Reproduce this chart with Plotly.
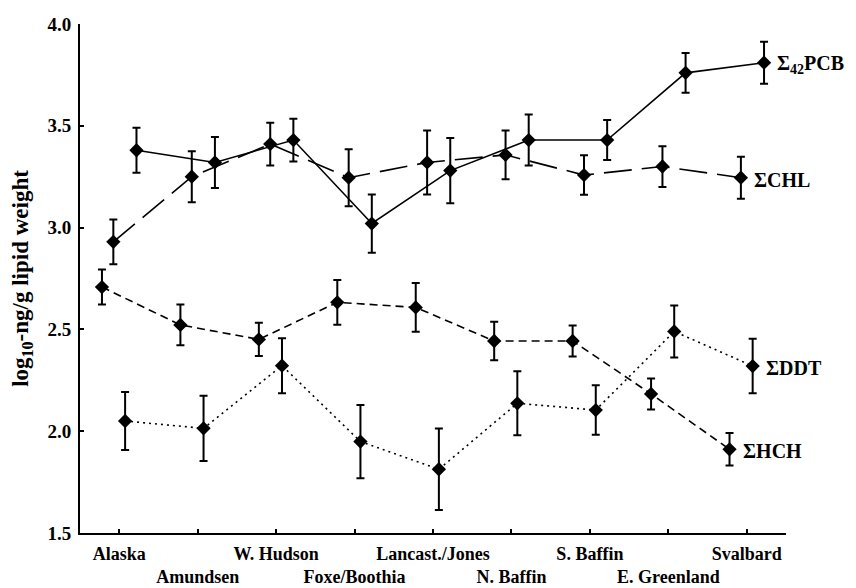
import numpy as np
import plotly.graph_objects as go

categories = ["Alaska", "Amundsen", "W. Hudson", "Foxe/Boothia", "Lancast./Jones",
              "N. Baffin", "S. Baffin", "E. Greenland", "Svalbard"]

pcb = [3.38, 3.32, 3.43, 3.02, 3.28, 3.43, 3.43, 3.76, 3.81]
pcb_err = [0.11, 0.125, 0.105, 0.143, 0.16, 0.125, 0.098, 0.098, 0.103]

chl = [2.93, 3.25, 3.41, 3.245, 3.32, 3.357, 3.258, 3.30, 3.245]
chl_err = [0.11, 0.125, 0.105, 0.14, 0.157, 0.12, 0.097, 0.10, 0.103]

hch = [2.708, 2.522, 2.451, 2.633, 2.608, 2.443, 2.443, 2.183, 1.911]
hch_err = [0.086, 0.10, 0.082, 0.11, 0.12, 0.095, 0.076, 0.076, 0.08]

ddt = [2.05, 2.014, 2.322, 1.949, 1.813, 2.137, 2.104, 2.49, 2.32]
ddt_err = [0.142, 0.16, 0.135, 0.18, 0.20, 0.157, 0.122, 0.128, 0.134]

series_names = ["Σ<sub>42</sub>PCB", "ΣCHL", "ΣHCH", "ΣDDT"]

FONT = "Liberation Serif"
base = np.arange(len(categories))

specs = [
    (pcb, pcb_err, 0.22, "solid", series_names[0]),
    (chl, chl_err, -0.075, "28px,10px", series_names[1]),
    (hch, hch_err, -0.22, "8px,5px", series_names[2]),
    (ddt, ddt_err, 0.075, "2px,4px", series_names[3]),
]

fig = go.Figure()
for vals, errs, off, dash, name in specs:
    xs = base + off
    fig.add_trace(go.Scatter(
        x=xs, y=vals, mode="lines+markers", name=name,
        line=dict(color="black", width=1.6, dash=dash),
        marker=dict(symbol="diamond", size=11, color="black"),
        error_y=dict(type="data", array=errs, visible=True, color="black",
                     thickness=2, width=4),
        showlegend=False,
    ))
    fig.add_annotation(
        x=xs[-1], y=vals[-1], text=name, showarrow=False,
        xanchor="left", yanchor="middle", xshift=11, yshift=-2,
        font=dict(family=FONT, size=20, color="black", weight="bold"),
    )

ticktext = [c if i % 2 == 0 else f"<br>{c}" for i, c in enumerate(categories)]

fig.update_layout(
    width=848, height=580,
    margin=dict(l=72, r=70, t=16, b=55),
    paper_bgcolor="white", plot_bgcolor="white",
    font=dict(family=FONT, color="black"),
    xaxis=dict(
        range=[-0.5, 8.5], tickvals=list(base), ticktext=ticktext, tickangle=0,
        automargin=False, ticklabelstandoff=3,
        showgrid=False, zeroline=False, showline=True, linecolor="black", linewidth=2,
        ticks="inside", ticklen=4, tickwidth=1.5, tickcolor="black",
        tickfont=dict(family=FONT, size=18, color="black", weight="bold"),
    ),
    yaxis=dict(
        range=[1.5, 4.0], tickvals=[1.5, 2.0, 2.5, 3.0, 3.5, 4.0],
        ticktext=["1.5", "2.0", "2.5", "3.0", "3.5", "4.0"],
        automargin=False, ticklabelstandoff=3,
        showgrid=False, zeroline=False, showline=True, linecolor="black", linewidth=2,
        ticks="inside", ticklen=4, tickwidth=1.5, tickcolor="black",
        tickfont=dict(family=FONT, size=19, color="black", weight="bold"),
        title=dict(text="log<sub>10</sub>-ng/g lipid weight",
                   font=dict(family=FONT, size=23, color="black", weight="bold"), standoff=12),
    ),
)

fig.write_html("out.html")
